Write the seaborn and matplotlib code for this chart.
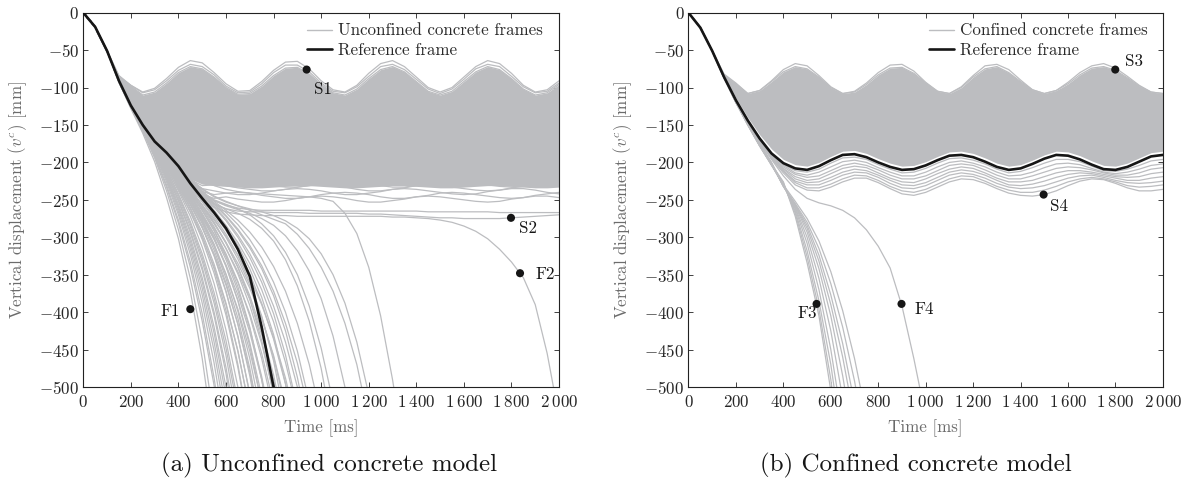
import matplotlib
matplotlib.use("Agg")
import matplotlib.pyplot as plt
from matplotlib.lines import Line2D
from matplotlib.ticker import FuncFormatter, MultipleLocator
import pandas as pd
import seaborn as sns

# ------------------------------------------------------------------
# Vertical displacement histories [mm], sampled every 50 ms (0..2000)
# ------------------------------------------------------------------
time_ms = list(range(0, 2001, 50))

# shared start of every history (t = 0, 50, 100 ms)
start_a = [0, -19, -51]
start_b = [0, -20, -51]

# ---------------- (a) unconfined concrete ----------------
reference_a = [0, -19, -51, -91, -124, -150, -172, -187, -205, -228, -248,
               -267, -288, -316, -352, -420, -500]

band_top_a = [0, -19, -51, -86, -98, -110, -106, -94, -80, -72, -75, -86, -100,
              -109, -108, -98, -84, -74, -73, -82, -96, -107, -110, -102, -88,
              -76, -72, -79, -92, -105, -110, -105, -92, -79, -72, -76, -88,
              -102, -110, -107, -96]
band_bottom_a = [0, -19, -51, -91, -124, -150, -172, -192, -210, -222, -229,
                 -231, -232, -233, -234, -234, -233, -232, -231, -231, -232,
                 -233, -234, -234, -233, -232, -231, -231, -232, -233, -234,
                 -234, -233, -232, -231, -231, -232, -233, -234, -234, -233]
upper_frames_a = [
    [0, -19, -51, -84, -97, -106, -101, -88, -73, -64, -67, -80, -95, -105, -104,
     -92, -77, -66, -65, -75, -91, -103, -106, -97, -81, -68, -64, -72, -86, -100,
     -106, -100, -86, -72, -64, -68, -81, -97, -106, -103, -91],
    [0, -19, -51, -85, -97, -107, -103, -91, -77, -69, -72, -83, -98, -107, -106,
     -95, -80, -70, -70, -79, -94, -105, -107, -99, -85, -72, -69, -76, -89, -102,
     -108, -102, -89, -75, -69, -72, -85, -99, -107, -105, -94],
]

# settled frames in the lower part of the band (from t = 150 ms)
settled_a = [
    [-90, -118, -141, -160, -174, -183, -187, -185, -184, -185, -188, -190, -192,
     -192, -190, -187, -185, -184, -185, -187, -190, -192, -192, -190, -188, -185,
     -184, -185, -187, -189, -191, -192, -191, -188, -186, -184, -184, -186],
    [-90, -118, -142, -161, -176, -186, -191, -190, -193, -195, -197, -197, -195,
     -192, -190, -189, -190, -192, -195, -197, -197, -195, -193, -190, -189, -190,
     -192, -194, -196, -197, -196, -193, -191, -189, -189, -191, -194, -196],
    [-90, -119, -143, -162, -178, -189, -195, -199, -197, -195, -194, -195, -198,
     -200, -202, -202, -200, -197, -195, -194, -195, -197, -200, -202, -202, -200,
     -198, -195, -194, -195, -197, -199, -201, -202, -201, -198, -196, -194],
    [-91, -119, -143, -163, -180, -193, -200, -201, -200, -201, -204, -206, -208,
     -208, -206, -203, -201, -200, -201, -203, -206, -208, -208, -206, -204, -201,
     -200, -201, -203, -205, -207, -208, -207, -204, -202, -200, -200, -202],
    [-91, -120, -144, -164, -182, -196, -204, -206, -209, -211, -213, -213, -211,
     -208, -206, -205, -206, -208, -211, -213, -213, -211, -209, -206, -205, -206,
     -208, -210, -212, -213, -212, -209, -207, -205, -205, -207, -210, -212],
    [-91, -120, -145, -165, -184, -199, -208, -212, -213, -211, -210, -211, -214,
     -216, -218, -218, -216, -213, -211, -210, -211, -213, -216, -218, -218, -216,
     -214, -211, -210, -211, -213, -215, -217, -218, -217, -214, -212, -210],
    [-91, -120, -145, -166, -186, -202, -212, -217, -215, -216, -219, -221, -223,
     -223, -221, -218, -216, -215, -216, -218, -221, -223, -223, -221, -219, -216,
     -215, -216, -218, -220, -222, -223, -222, -219, -217, -215, -215, -217],
    [-91, -121, -146, -167, -188, -205, -216, -221, -224, -226, -228, -228, -226,
     -223, -221, -220, -221, -223, -226, -228, -228, -226, -224, -221, -220, -221,
     -223, -225, -227, -228, -227, -224, -222, -220, -220, -222, -225, -227],
    [-91, -121, -146, -168, -189, -207, -220, -226, -228, -226, -225, -226, -229,
     -231, -233, -233, -231, -228, -226, -225, -226, -228, -231, -233, -233, -231,
     -229, -226, -225, -226, -228, -230, -232, -233, -232, -229, -227, -225],
    [-91, -121, -147, -169, -190, -209, -223, -231, -230, -231, -234, -236, -238,
     -238, -236, -233, -231, -230, -231, -233, -236, -238, -238, -236, -234, -231,
     -230, -231, -233, -235, -237, -238, -237, -234, -232, -230, -230, -232],
    [-91, -121, -147, -170, -191, -211, -226, -235, -238, -241, -243, -243, -241,
     -238, -236, -235, -236, -238, -241, -243, -243, -241, -239, -236, -235, -236,
     -238, -240, -242, -243, -242, -239, -237, -235, -235, -237, -240, -242],
    [-91, -122, -148, -170, -192, -213, -229, -239, -243, -241, -240, -241, -244,
     -246, -248, -248, -246, -243, -241, -240, -241, -243, -246, -248, -248, -246,
     -244, -241, -240, -241, -243, -245, -247, -248, -247, -244, -242, -240],
    [-91, -122, -148, -171, -193, -215, -232, -243, -248, -246, -249, -251, -253,
     -253, -251, -248, -246, -245, -246, -248, -251, -253, -253, -251, -249, -246,
     -245, -246, -248, -250, -252, -253, -252, -249, -247, -245, -245, -247],
    # frames that settle far below the band (S2 region)
    [-91, -122, -148, -171, -194, -216, -234, -247, -256, -262, -265, -266, -266,
     -267, -267, -267, -268, -268, -268, -268, -268, -269, -269, -270, -271, -272,
     -273, -274, -274, -275, -275, -275, -275, -274, -273, -272, -271, -270],
    [-91, -122, -148, -171, -193, -213, -230, -242, -251, -257, -261, -263, -264,
     -264, -264, -264, -264, -265, -265, -265, -265, -265, -265, -265, -265, -265,
     -266, -266, -266, -266, -266, -266, -267, -267, -267, -267, -267, -267],
]

# collapsing frames (from t = 150 ms until they leave the axes)
collapse_a = [
    [-93, -128, -161, -199, -247, -302, -372, -462, -575],
    [-93, -127, -158, -194, -238, -290, -355, -438, -545],
    [-92, -126, -157, -192, -233, -281, -340, -412, -498, -600],
    [-92, -126, -156, -190, -230, -277, -333, -402, -488, -595],
    [-92, -125, -155, -188, -226, -270, -323, -388, -468, -565],
    [-92, -125, -154, -186, -223, -266, -316, -377, -452, -545],
    [-92, -124, -153, -185, -221, -262, -310, -368, -440, -528],
    [-92, -125, -153, -184, -219, -259, -305, -360, -428, -512],
    [-92, -124, -152, -183, -217, -256, -300, -354, -420, -500],
    [-92, -124, -152, -182, -215, -252, -294, -344, -405, -482, -580],
    [-91, -124, -151, -181, -214, -250, -291, -340, -400, -474, -565],
    [-92, -124, -151, -180, -212, -247, -286, -332, -388, -458, -548],
    [-91, -123, -151, -179, -210, -244, -282, -327, -381, -448, -530],
    [-91, -123, -150, -178, -209, -242, -279, -322, -374, -438, -520],
    [-91, -123, -150, -178, -207, -238, -272, -313, -362, -424, -500],
    [-91, -123, -150, -177, -205, -232, -262, -298, -342, -398, -470, -560],
    [-91, -123, -150, -177, -204, -234, -266, -303, -348, -404, -474, -560],
    [-91, -122, -149, -176, -202, -230, -260, -294, -336, -388, -452, -532],
    [-91, -123, -150, -176, -202, -228, -255, -286, -324, -372, -432, -510],
    [-91, -122, -149, -175, -200, -227, -255, -287, -325, -373, -433, -508],
    [-91, -122, -149, -175, -200, -224, -250, -278, -312, -355, -408, -475, -560],
    [-91, -122, -148, -174, -199, -225, -252, -282, -317, -361, -416, -485, -570],
    [-91, -122, -148, -173, -197, -222, -248, -276, -309, -349, -399, -462, -540],
    [-91, -122, -148, -173, -197, -220, -244, -270, -300, -338, -385, -445, -522],
    [-91, -121, -147, -172, -196, -220, -245, -272, -302, -339, -384, -441, -512],
    [-91, -122, -148, -172, -195, -218, -240, -264, -291, -325, -366, -420, -490,
     -580],
    [-91, -121, -147, -171, -194, -218, -242, -268, -296, -330, -371, -422, -486,
     -566],
    [-91, -121, -147, -171, -193, -216, -239, -264, -291, -322, -359, -405, -462,
     -533],
    [-91, -121, -147, -171, -193, -214, -236, -257, -280, -307, -340, -382, -438,
     -510],
    [-91, -121, -146, -170, -192, -214, -237, -261, -286, -315, -349, -391, -442,
     -507],
    [-91, -121, -146, -169, -191, -213, -235, -257, -281, -308, -340, -378, -425,
     -484, -560],
    [-91, -121, -147, -170, -191, -212, -232, -252, -272, -296, -324, -360, -405,
     -465, -545],
    [-91, -120, -146, -169, -190, -211, -232, -253, -275, -300, -329, -364, -407,
     -460, -527],
    [-91, -121, -146, -169, -190, -210, -229, -247, -265, -286, -311, -342, -380,
     -430, -495, -580],
    [-91, -120, -145, -168, -189, -209, -229, -249, -269, -291, -317, -349, -388,
     -436, -496, -570],
    [-91, -120, -146, -168, -188, -207, -226, -244, -260, -278, -300, -327, -360,
     -402, -457, -528],
    [-90, -120, -145, -167, -188, -207, -226, -245, -264, -284, -307, -335, -370,
     -413, -467, -533],
    [-91, -120, -145, -167, -187, -206, -224, -241, -256, -272, -291, -314, -342,
     -378, -425, -487, -565],
    [-90, -119, -144, -166, -186, -205, -223, -241, -258, -276, -297, -322, -353,
     -392, -440, -500],
    [-91, -120, -145, -167, -186, -205, -223, -240, -254, -267, -283, -303, -328,
     -360, -400, -452, -520],
    [-90, -119, -144, -166, -185, -204, -222, -239, -255, -271, -289, -311, -338,
     -372, -415, -468, -535],
    [-90, -119, -144, -166, -185, -203, -221, -238, -252, -264, -277, -293, -313,
     -339, -372, -415, -470, -540],
    [-92, -124, -152, -180, -208, -236, -266, -300, -340, -390, -452, -530],
    [-92, -123, -151, -178, -204, -230, -257, -287, -322, -364, -416, -480, -560],
    [-91, -123, -150, -176, -201, -226, -252, -280, -312, -350, -396, -452, -520],
    [-91, -122, -149, -175, -199, -223, -248, -274, -303, -337, -377, -427, -490,
     -570],
    [-91, -122, -149, -174, -198, -222, -246, -270, -296, -326, -360, -402, -455,
     -522],
    [-91, -122, -148, -173, -196, -219, -242, -264, -288, -315, -346, -383, -430,
     -490, -565],
    [-91, -121, -148, -172, -195, -217, -239, -260, -282, -307, -335, -368, -408,
     -458, -522],
    [-91, -121, -147, -171, -194, -216, -237, -257, -277, -299, -324, -354, -390,
     -434, -488, -556],
    [-91, -121, -147, -169, -190, -209, -226, -240, -250, -256, -262, -270, -282,
     -298, -320, -350, -392, -448, -520],
    [-91, -121, -147, -169, -190, -209, -226, -240, -251, -258, -263, -268, -275,
     -284, -298, -318, -345, -382, -432, -500, -590],
    [-91, -121, -147, -169, -189, -207, -223, -236, -246, -253, -258, -262, -266,
     -271, -278, -288, -302, -322, -350, -388, -440, -510],
    [-90, -119, -143, -164, -182, -198, -212, -223, -231, -236, -239, -241, -242,
     -243, -244, -245, -246, -248, -252, -268, -295, -340, -405, -490, -590],
    [-91, -121, -147, -170, -191, -211, -229, -244, -255, -262, -268, -276, -288,
     -305, -330, -365, -412, -475, -560],
    [-91, -121, -146, -168, -188, -206, -222, -235, -245, -252, -258, -264, -270,
     -276, -282, -296, -315, -340, -372, -415, -470, -545],
    # late collapse (F2)
    [-91, -122, -148, -171, -194, -217, -236, -250, -260, -266, -269, -270, -271,
     -271, -271, -272, -272, -272, -272, -272, -272, -272, -272, -273, -273, -274,
     -275, -277, -280, -285, -292, -302, -316, -333, -354, -390, -455, -540],
]

marks_a = ["S1", "S2", "F1", "F2"]
marks_a_t = [939, 1798, 450, 1836]
marks_a_v = [-76, -274, -396, -348]

# ---------------- (b) confined concrete ----------------
reference_b = [0, -20, -51, -86, -117, -144, -168, -188, -201, -208, -210, -205,
               -197, -190, -189, -193, -200, -206, -210, -209, -204, -197, -191,
               -190, -193, -199, -206, -210, -208, -202, -195, -190, -191, -196,
               -203, -209, -210, -206, -199, -192, -190]

band_top_b = [0, -20, -51, -83, -95, -108, -104, -92, -79, -72, -75, -86, -100,
              -108, -106, -96, -83, -74, -73, -81, -94, -105, -108, -100, -86,
              -75, -72, -80, -92, -103, -108, -104, -95, -83, -74, -72, -77, -87,
              -98, -106, -108]
band_bottom_b = [0, -20, -51, -84, -114, -140, -163, -182, -196, -203, -205,
                 -200, -192, -185, -184, -188, -195, -201, -205, -204, -199, -192,
                 -186, -185, -188, -194, -201, -205, -203, -197, -190, -185, -186,
                 -191, -198, -204, -205, -201, -194, -187, -185]
upper_frames_b = [
    [0, -20, -51, -82, -94, -108, -104, -91, -76, -68, -71, -84, -99, -108, -105,
     -94, -80, -70, -69, -78, -93, -105, -108, -99, -84, -71, -69, -76, -90, -103,
     -108, -104, -93, -80, -71, -68, -74, -85, -97, -106, -108],
]

settled_b = [
    [-86, -117, -144, -168, -189, -203, -211, -213, -209, -201, -194, -193, -196,
     -203, -209, -214, -213, -208, -201, -195, -194, -197, -202, -209, -214, -212,
     -207, -201, -196, -196, -199, -205, -211, -212, -209, -204, -198, -196],
    [-86, -118, -145, -169, -190, -204, -214, -217, -213, -206, -199, -197, -200,
     -207, -213, -218, -218, -213, -206, -200, -198, -201, -206, -213, -218, -217,
     -213, -207, -202, -201, -203, -208, -213, -215, -213, -209, -204, -202],
    [-86, -118, -145, -170, -191, -206, -216, -220, -218, -211, -204, -201, -204,
     -210, -217, -222, -222, -218, -211, -204, -202, -204, -210, -217, -222, -222,
     -218, -213, -208, -206, -207, -210, -214, -217, -217, -214, -209, -207],
    [-87, -118, -146, -170, -192, -208, -219, -224, -222, -215, -208, -205, -207,
     -214, -221, -226, -227, -222, -215, -209, -206, -208, -214, -221, -226, -226,
     -224, -219, -214, -211, -211, -213, -216, -219, -220, -219, -215, -213],
    [-87, -118, -146, -171, -192, -209, -222, -227, -226, -220, -213, -209, -211,
     -217, -224, -230, -231, -227, -220, -213, -210, -212, -217, -224, -230, -231,
     -229, -225, -220, -216, -214, -215, -218, -221, -224, -224, -221, -219],
    [-87, -119, -146, -171, -193, -211, -225, -230, -230, -224, -217, -213, -214,
     -220, -228, -234, -235, -231, -224, -217, -214, -216, -221, -228, -233, -235,
     -234, -231, -226, -221, -218, -217, -220, -224, -227, -228, -227, -225],
    [-87, -119, -147, -172, -194, -212, -227, -234, -234, -229, -222, -217, -218,
     -224, -232, -238, -240, -236, -229, -222, -218, -219, -225, -232, -237, -240,
     -240, -237, -232, -226, -222, -220, -222, -226, -231, -233, -232, -230],
    [-87, -119, -147, -172, -195, -214, -230, -237, -238, -233, -226, -221, -221,
     -227, -235, -242, -244, -240, -233, -226, -222, -223, -228, -235, -241, -244,
     -245, -243, -238, -231, -225, -222, -223, -228, -234, -238, -238, -236],
]

collapse_b = [
    [-87, -120, -150, -178, -203, -226, -272, -334, -405, -505],
    [-87, -120, -150, -178, -203, -227, -268, -326, -396, -490, -610],
    [-87, -120, -150, -178, -204, -229, -265, -318, -385, -470, -580],
    [-87, -120, -149, -177, -203, -230, -262, -308, -370, -450, -550],
    [-87, -119, -149, -177, -203, -231, -260, -300, -355, -425, -515],
    [-87, -119, -149, -176, -202, -231, -258, -293, -342, -405, -485, -580],
    [-87, -119, -148, -176, -202, -232, -257, -288, -332, -390, -460, -545],
    [-86, -119, -148, -175, -201, -232, -256, -284, -324, -377, -442, -522],
    [-86, -118, -147, -175, -201, -232, -255, -280, -315, -362, -420, -492, -580],
    [-86, -118, -147, -174, -200, -230, -252, -275, -305, -346, -398, -462, -540],
    # late collapse (F4)
    [-87, -119, -147, -172, -196, -218, -236, -248, -254, -258, -264, -274, -290,
     -312, -341, -392, -462, -540],
]

marks_b = ["S3", "S4", "F3", "F4"]
marks_b_t = [1799, 1497, 540, 898]
marks_b_v = [-76, -243, -389, -389]

# ------------------------------------------------------------------
GRAY = "#bcbdc0"
INK = "#161616"
LABEL_GRAY = "#6b6b6b"


def long_table(full_curves, tail_curves, start):
    rows = []
    k = 0
    for vals in full_curves:
        for t, v in zip(time_ms, vals):
            rows.append((k, t, v))
        k += 1
    for tail in tail_curves:
        vals = start + tail
        for t, v in zip(time_ms, vals):
            rows.append((k, t, v))
        k += 1
    return pd.DataFrame(rows, columns=["frame", "time", "disp"])


def thousands(x, _pos):
    n = int(round(x))
    if abs(n) >= 1000:
        s = f"{n:,}".replace(",", r"\:")
    else:
        s = str(n)
    return f"${s}$"


sns.set_theme(style="ticks")
plt.rcParams.update({
    "font.family": ["cmr10", "DejaVu Serif"],
    "mathtext.fontset": "cm",
    "axes.formatter.use_mathtext": True,
    "axes.unicode_minus": True,
    "axes.edgecolor": "#222222",
    "axes.linewidth": 0.8,
})

fig = plt.figure(figsize=(11.93, 4.84), dpi=100)
ax_a = fig.add_axes([0.0698, 0.2004, 0.3988, 0.7734])
ax_b = fig.add_axes([0.5771, 0.2004, 0.3977, 0.7734])

panels = [
    (ax_a, band_top_a, band_bottom_a, [band_top_a] + upper_frames_a,
     settled_a + collapse_a, start_a, reference_a, marks_a, marks_a_t, marks_a_v,
     "Unconfined concrete frames"),
    (ax_b, band_top_b, band_bottom_b, [band_top_b] + upper_frames_b,
     settled_b + collapse_b, start_b, reference_b, marks_b, marks_b_t, marks_b_v,
     "Confined concrete frames"),
]

# label placement: (dt, dv, ha) relative to each marked point
label_offsets = {
    "S1": (29, -26, "left"), "S2": (32, -14, "left"),
    "F1": (-43, -3, "right"), "F2": (65, -1, "left"),
    "S3": (39, 11, "left"), "S4": (27, -16, "left"),
    "F3": (3, -12, "right"), "F4": (56, -7, "left"),
}
legend_anchor = {id(ax_a): (0.470, 0.972), id(ax_b): (0.507, 0.972)}

for (ax, top, bottom, full, tails, start, ref, names, mt, mv, label) in panels:
    ax.fill_between(time_ms, bottom, top, color=GRAY, lw=0, zorder=1)
    frames = long_table(full, tails, start)
    sns.lineplot(data=frames, x="time", y="disp", units="frame", estimator=None,
                 color=GRAY, lw=0.9, ax=ax, legend=False, zorder=2)
    sns.lineplot(x=time_ms[:len(ref)], y=ref, color=INK, lw=1.9, ax=ax,
                 zorder=4)
    sns.scatterplot(x=mt, y=mv, color=INK, s=34, edgecolor="none", ax=ax,
                    zorder=5)
    for n, t, v in zip(names, mt, mv):
        dt, dv, ha = label_offsets[n]
        ax.text(t + dt, v + dv, n, ha=ha, va="center", fontsize=12.2,
                color=INK, zorder=6)

    ax.set_xlim(0, 2000)
    ax.set_ylim(-500, 0)
    ax.xaxis.set_major_locator(MultipleLocator(200))
    ax.yaxis.set_major_locator(MultipleLocator(50))
    ax.xaxis.set_major_formatter(FuncFormatter(thousands))
    ax.yaxis.set_major_formatter(FuncFormatter(thousands))
    ax.tick_params(direction="in", length=3.5, width=0.6, top=True, right=True,
                   labelsize=12.2, labelcolor="#262626", color="#222222")
    ax.tick_params(axis="x", pad=5)
    ax.tick_params(axis="y", pad=3)
    for side in ax.spines.values():
        side.set_visible(True)
        side.set_color("#222222")

    ax.set_xlabel("Time [ms]", fontsize=12.2, color=LABEL_GRAY)
    ax.set_ylabel(r"Vertical displacement ($v^c$) [mm]", fontsize=12.2,
                  color=LABEL_GRAY)
    ax.xaxis.set_label_coords(0.5, -0.085)
    ax.yaxis.set_label_coords(-0.115, 0.5)

    handles = [Line2D([], [], color=GRAY, lw=1.0),
               Line2D([], [], color=INK, lw=1.9)]
    leg = ax.legend(handles, [label, "Reference frame"], loc="upper left",
                    bbox_to_anchor=legend_anchor[id(ax)], frameon=False,
                    borderpad=0, borderaxespad=0, handlelength=1.5,
                    handletextpad=0.35, labelspacing=0.25, fontsize=12.2)
    for txt in leg.get_texts():
        txt.set_color("#2a2a2a")

fig.text(329 / 1193, 1 - 465 / 484, "(a) Unconfined concrete model",
         ha="center", va="center", fontsize=18, color=INK)
fig.text(916 / 1193, 1 - 465 / 484, "(b) Confined concrete model",
         ha="center", va="center", fontsize=18, color=INK)

fig.savefig("out.png", dpi=100)
